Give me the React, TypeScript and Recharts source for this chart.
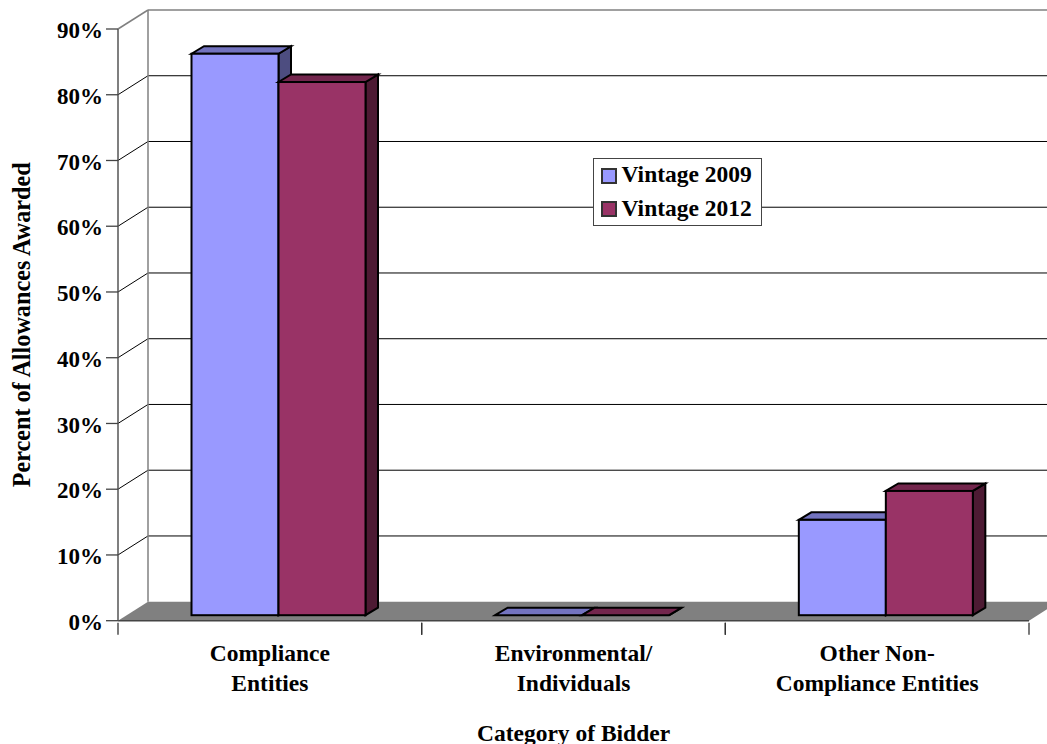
import { Bar, BarChart, CartesianGrid, Legend, XAxis, YAxis } from 'recharts'

const categories = [['Compliance', 'Entities'], ['Environmental/', 'Individuals'], ['Other Non-', 'Compliance Entities']]
const vintage2009 = [85.4, 0, 14.5]
const vintage2012 = [81.1, 0, 18.9]
const yTicks = [0, 10, 20, 30, 40, 50, 60, 70, 80, 90]

const data = categories.map((lines, i) => ({
  name: lines.join(' '),
  v2009: vintage2009[i],
  v2012: vintage2012[i],
}))

const font = '"Liberation Serif", "Times New Roman", serif'
const WALL = { dx: 30, dy: -19 }
const BAR_BASE = { dx: 8.5, dy: -5.5 }
const BAR_DEPTH = { dx: 12.5, dy: -7.5 }
const GRAY = '#808080'
const BAND = 911 / 3

function shade(hex: string, k: number) {
  const n = parseInt(hex.slice(1), 16)
  const c = (s: number) => Math.round(((n >> s) & 255) * k)
  return `rgb(${c(16)},${c(8)},${c(0)})`
}

function Bar3D(props: any) {
  const { x, y, width, height, fill } = props
  const l = x + BAR_BASE.dx
  const r = l + width
  const t = y + BAR_BASE.dy
  const b = t + height
  const { dx, dy } = BAR_DEPTH
  const common = { stroke: '#000', strokeWidth: 2, strokeLinejoin: 'miter' as const }
  return (
    <g>
      <polygon points={`${r},${t} ${r + dx},${t + dy} ${r + dx},${b + dy} ${r},${b}`} fill={shade(fill, 0.5)} {...common} />
      <polygon points={`${l},${t} ${l + dx},${t + dy} ${r + dx},${t + dy} ${r},${t}`} fill={shade(fill, 0.75)} {...common} />
      {height > 0 && <rect x={l} y={t} width={width} height={height} fill={fill} {...common} />}
    </g>
  )
}

function WallLine(props: any) {
  const { x, y, width, height, x1, y1, x2 } = props
  const isTop = Math.abs(y1 - y) < 1
  const isFloor = Math.abs(y1 - (y + height)) < 1
  const bx = x1 + WALL.dx
  const by = y1 + WALL.dy
  if (isFloor) {
    return (
      <polygon
        points={`${x1},${y1} ${bx},${by} ${x2 + WALL.dx},${by} ${x2},${y1}`}
        fill={GRAY}
      />
    )
  }
  const stroke = isTop ? GRAY : '#000'
  const sw = isTop ? 1.5 : 1
  return (
    <g fill="none" stroke={stroke} strokeWidth={sw}>
      <line x1={x1} y1={y1} x2={bx} y2={by} />
      <line x1={bx} y1={by} x2={x + width + WALL.dx} y2={by} />
      {isTop && <line x1={bx} y1={by} x2={bx} y2={y + height + WALL.dy} stroke={GRAY} strokeWidth={1.5} />}
    </g>
  )
}

function CategoryTick(props: any) {
  const { x, y, payload, index } = props
  const lines = categories[index] ?? [payload.value]
  return (
    <g>
      <line x1={x - BAND / 2} y1={y - 12} x2={x - BAND / 2} y2={y} stroke="#333" strokeWidth={1.3} />
      <line x1={x + BAND / 2} y1={y - 12} x2={x + BAND / 2} y2={y} stroke="#333" strokeWidth={1.3} />
      {lines.map((line, i) => (
        <text key={line} x={x} y={y + 26 + i * 30.5} textAnchor="middle" fontFamily={font} fontWeight="bold" fontSize={23.5} fill="#000">
          {line}
        </text>
      ))}
    </g>
  )
}

function LegendBox({ payload }: any) {
  return (
    <div style={{ width: 169, height: 68, boxSizing: 'border-box', background: '#fff', border: '1.5px solid #444', fontFamily: font, fontWeight: 'bold', fontSize: 23.5, color: '#000', position: 'relative' }}>
      {(payload ?? []).map((item: any, i: number) => (
        <div key={item.value} style={{ position: 'absolute', left: 6.5, top: 8.5 + i * 33.5, height: 16, display: 'flex', alignItems: 'center', whiteSpace: 'nowrap', lineHeight: '16px' }}>
          <span style={{ display: 'inline-block', width: 16, height: 16, background: item.color, border: '2px solid #333', boxSizing: 'border-box', marginRight: 5 }} />
          <span style={{ position: 'relative', top: -1.5 }}>{item.value}</span>
        </div>
      ))}
    </div>
  )
}

export default function App() {
  return (
    <div style={{ position: 'absolute', left: 0, top: 0, width: 1047, height: 744, background: '#fff' }}>
      <BarChart
        width={1047}
        height={744}
        data={data}
        margin={{ top: 29, right: 18, bottom: 0, left: 0 }}
        barCategoryGap={65}
        barGap={0}
      >
        <CartesianGrid vertical={false} horizontal={(p: any) => <WallLine key={p.key} {...p} />} />
        <XAxis
          dataKey="name"
          height={123.3}
          interval={0}
          axisLine={{ stroke: '#444', strokeWidth: 1.5 }}
          tickLine={false}
          tick={<CategoryTick />}
          tickSize={12}
          label={{ value: 'Category of Bidder', position: 'insideBottom', offset: 3, fontFamily: font, fontWeight: 'bold', fontSize: 23.5, fill: '#000' }}
        />
        <YAxis
          width={118}
          domain={[0, 90]}
          ticks={yTicks}
          interval={0}
          tickFormatter={(v) => `${v}%`}
          axisLine={{ stroke: '#555', strokeWidth: 1.5 }}
          tickLine={{ stroke: '#444', strokeWidth: 1.3 }}
          tickSize={12}
          tickMargin={3}
          tick={{ fontFamily: font, fontWeight: 'bold', fontSize: 23, fill: '#000', dy: 1 }}
          label={{ value: 'Percent of Allowances Awarded', angle: -90, position: 'insideLeft', offset: 21, fontFamily: font, fontWeight: 'bold', fontSize: 24.2, fill: '#000', style: { textAnchor: 'middle' } }}
        />
        <Legend
          layout="vertical"
          align="center"
          verticalAlign="middle"
          wrapperStyle={{ left: 593, top: 158, width: 169, height: 68 }}
          content={<LegendBox />}
        />
        <Bar dataKey="v2009" name="Vintage 2009" fill="#9999FF" shape={<Bar3D />} isAnimationActive={false} />
        <Bar dataKey="v2012" name="Vintage 2012" fill="#993366" shape={<Bar3D />} isAnimationActive={false} />
      </BarChart>
    </div>
  )
}
